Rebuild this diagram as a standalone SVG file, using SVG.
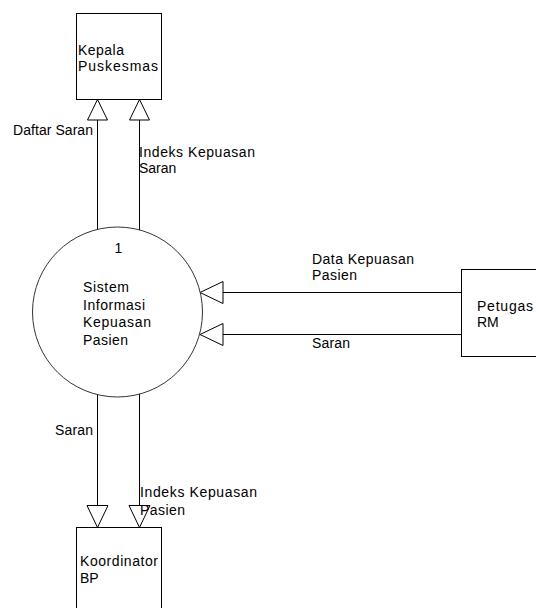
<svg xmlns="http://www.w3.org/2000/svg" width="536" height="608" viewBox="0 0 536 608">
<style>
.box{fill:#fff;stroke:#000;stroke-width:1}
.proc{fill:#fff;stroke:#333;stroke-width:1}
.flow{fill:none;stroke:#000;stroke-width:1}
.head{fill:#fff;stroke:#000;stroke-width:1}
text{font-family:"Liberation Sans",Arial,sans-serif;font-size:14px;fill:#000}
</style>
<rect width="536" height="608" fill="#fff"/>
<g id="connectors">
<line class="flow" x1="97.5" y1="120" x2="97.5" y2="230"/>
<line class="flow" x1="139.5" y1="120" x2="139.5" y2="230"/>
<polygon class="head" points="97.5,99.5 87.5,120 107.5,120"/>
<polygon class="head" points="139.5,99.5 129.5,120 149.5,120"/>
<line class="flow" x1="223" y1="292.5" x2="461.5" y2="292.5"/>
<line class="flow" x1="223" y1="334.5" x2="461.5" y2="334.5"/>
<polygon class="head" points="200,292.5 223,281.5 223,303.5"/>
<polygon class="head" points="200,334.5 223,323.5 223,345.5"/>
<line class="flow" x1="97.5" y1="394" x2="97.5" y2="505.5"/>
<line class="flow" x1="139.5" y1="394" x2="139.5" y2="505.5"/>
<polygon class="head" points="87,505.5 108,505.5 97.5,527.5"/>
<polygon class="head" points="129,505.5 150,505.5 139.5,527.5"/>
<text x="13" y="135" textLength="80">Daftar Saran</text>
<text x="139" y="157" textLength="116">Indeks Kepuasan</text>
<text x="139" y="173">Saran</text>
<text x="312" y="264" textLength="102">Data Kepuasan</text>
<text x="312" y="280" textLength="45">Pasien</text>
<text x="312" y="348" textLength="38">Saran</text>
<text x="55" y="435" textLength="38">Saran</text>
<text x="140" y="497" textLength="117">Indeks Kepuasan</text>
<text x="140" y="515" textLength="45">Pasien</text>
</g>
<g id="kepala">
<rect class="box" x="76.5" y="13.5" width="85" height="86"/>
<text x="78" y="55" textLength="46">Kepala</text>
<text x="78" y="71" textLength="80">Puskesmas</text>
</g>
<g id="proses">
<circle class="proc" cx="117.5" cy="312" r="85"/>
<text x="118.5" y="253" text-anchor="middle">1</text>
<text x="83" y="292" textLength="46">Sistem</text>
<text x="83" y="310" textLength="62">Informasi</text>
<text x="83" y="327" textLength="68">Kepuasan</text>
<text x="83" y="345" textLength="45">Pasien</text>
</g>
<g id="petugas">
<rect class="box" x="461.5" y="269.5" width="90" height="87"/>
<text x="477" y="311" textLength="56">Petugas</text>
<text x="477" y="327">RM</text>
</g>
<g id="koordinator">
<rect class="box" x="76.5" y="527.5" width="85" height="100"/>
<text x="80" y="566" textLength="78">Koordinator</text>
<text x="80" y="583">BP</text>
</g>
</svg>
